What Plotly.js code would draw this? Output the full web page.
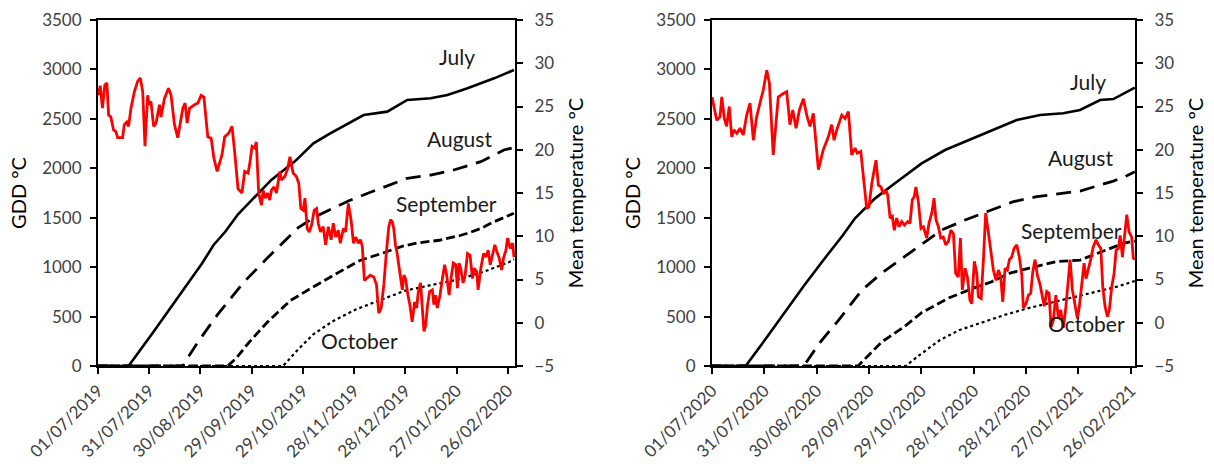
<!DOCTYPE html>
<html><head><meta charset="utf-8">
<script src="https://cdn.plot.ly/plotly-3.0.1.min.js"></script>
<style>html,body{margin:0;padding:0;background:#fff;}#chart{width:1214px;height:464px;}</style>
</head><body><div id="chart"></div>
<script>
// ---------- DATA (day offsets from 1 July of each season) ----------
const seasonStartA = '2019-07-01';
const seasonStartB = '2020-07-01';
const seasonEndA = '2020-03-01 05:00';
const seasonEndB = '2021-02-28 12:00';

// Season 2019/20 : mean daily temperature (°C)
const tempDaysA = [0,1.3,2.6,4.0,5.2,6.2,7.5,9.1,10.5,11.5,14.4,15.4,16.9,17.9,19.3,21.3,23.2,24.8,26.2,27.5,29.1,30.1,31.0,32.6,34.0,36.0,36.9,38.9,41.3,42.8,44.8,46.7,49.7,51.0,52.2,53.6,56.5,58.5,60.4,62.0,64.3,66.3,67.9,69.8,72.6,74.2,76.5,78.5,80.0,82.0,84.3,85.9,87.9,88.9,90.2,91.8,92.7,94.1,95.7,96.7,98.0,99.2,100.6,101.5,103.1,104.5,106.5,107.4,109.4,110.9,112.4,114.3,116.2,117.6,118.8,120.2,121.2,122.5,123.7,125.1,126.6,128.0,129.0,130.3,131.9,133.3,134.9,136.5,137.8,139.2,140.7,141.9,143.7,145.0,146.6,148.2,149.6,150.9,152.5,153.7,154.8,156.0,159.5,161.5,163.1,164.4,165.8,167.4,168.9,170.3,171.3,172.3,173.2,174.2,175.2,176.8,178.2,179.1,180.1,181.5,182.6,184.0,185.4,186.6,187.6,188.9,189.9,190.9,191.9,192.9,194.2,195.8,196.7,197.7,198.7,200.3,201.7,203.0,204.2,205.6,207.0,208.1,209.5,210.5,211.4,212.4,213.8,215.0,216.4,217.9,219.3,220.3,221.8,222.6,224.2,225.8,227.1,228.5,229.7,231.1,232.4,233.6,234.9,236.4,237.5,238.9,239.9,241.4,242.8,243.6];
const tempA = [26.3,27.4,24.8,27.5,27.7,24.0,23.8,22.3,22.1,21.4,21.4,22.9,23.2,22.7,24.8,26.7,27.9,28.3,26.7,20.4,26.3,25.2,25.6,22.7,23.1,25.2,23.8,25.9,27.1,26.3,22.9,21.4,24.8,25.4,23.1,24.8,25.2,25.4,26.3,26.1,21.5,21.3,19.0,17.5,19.4,21.5,21.9,22.7,19.8,15.5,15.0,17.5,17.3,18.4,20.4,20.2,20.9,15.0,13.6,15.3,14.4,15.0,14.2,15.3,15.7,15.0,17.5,16.5,16.9,17.7,19.2,17.3,16.9,16.1,13.2,13.0,14.4,10.9,10.5,11.3,13.0,13.2,11.5,10.5,11.1,9.0,11.1,9.6,11.5,9.9,10.7,9.2,10.9,10.5,13.8,11.9,9.2,9.9,9.2,9.6,8.8,4.9,5.5,5.3,4.4,1.1,1.7,4.4,8.2,11.1,11.9,11.7,10.9,9.0,8.0,5.9,3.8,5.5,5.1,3.2,2.1,0.1,2.4,1.7,3.6,4.6,2.1,-1.0,-0.3,1.9,3.6,3.8,2.1,3.2,1.7,3.2,5.1,6.7,5.5,3.2,5.5,6.9,6.7,4.0,6.9,6.3,4.6,5.5,8.0,7.8,5.1,6.3,5.9,3.8,6.3,8.0,7.6,8.4,6.7,7.8,9.0,8.2,7.5,6.1,7.5,8.4,9.8,8.6,9.2,7.6];

// Season 2019/20 : cumulative GDD (°C) by sowing month
const julyDaysA = [0,17.9,31.9,43.1,54.2,61.0,67.7,74.5,82.0,101.5,115.3,126.2,136.0,155.6,169.4,181.1,194.8,204.6,216.4,232.0,243.6];
const julyA = [0,0,331,600,870,1039,1224,1358,1535,1882,2070,2253,2354,2539,2573,2691,2708,2741,2809,2910,2994];
const augustDaysA = [0,49.5,58.8,70.0,85.5,93.7,99.6,109.6,117.3,127.3,136.6,146.6,158.4,181.1,194.8,208.3,224.2,237.7,243.6];
const augustA = [0,0,250,520,850,1000,1100,1270,1400,1510,1590,1670,1750,1899,1932,1983,2067,2185,2210];
const septemberDaysA = [0,76,81,88,99,112.5,126,139.5,153,166.4,178,187,200,212,216,224,232,243.6];
const septemberA = [0,0,80,230,440,660,800,930,1065,1140,1210,1245,1272,1320,1340,1390,1460,1545];
const octoberDaysA = [0,108.4,117.3,126.1,137.2,150.7,164.2,179.5,195.4,211.2,227,240.6,243.6];
const octoberA = [0,0,170,320,450,570,660,760,820,875,960,1050,1080];

// Season 2020/21 : mean daily temperature (°C)
const tempDaysB = [0,2.7,4.6,5.6,7.1,8.4,9.9,11.3,12.6,14.2,16.1,17.9,19.9,21.8,23.7,25.6,27.5,29.4,31.4,32.9,35.1,38.0,40.9,42.8,44.7,46.3,48.2,50.1,52.4,54.3,56.2,58.1,61.0,63.8,66.7,68.6,70.0,71.5,74.4,76.3,78.2,80.1,82.0,83.3,85.3,87.3,88.7,90.0,91.6,93.1,94.0,95.4,96.9,98.2,99.6,100.7,102.1,103.4,104.5,105.9,107.2,108.8,110.3,112.2,113.5,114.8,116.0,116.9,118.3,119.8,121.2,123.1,124.4,126.0,127.3,128.4,129.8,131.1,132.6,134.0,135.5,136.9,138.4,139.7,141.2,142.4,143.5,145.1,146.4,147.9,148.9,150.4,151.8,152.7,154.3,155.6,156.9,158.4,160.0,161.3,162.8,164.2,165.5,166.7,168.0,169.3,170.5,171.8,173.2,174.7,176.2,177.6,178.5,180.0,181.4,182.7,183.9,185.2,186.5,188.1,189.4,190.5,191.9,193.2,194.4,195.7,197.1,198.6,199.9,201.4,202.8,204.0,205.3,206.6,208.1,209.5,210.6,212.0,213.3,214.4,215.8,217.1,218.6,220.2,221.5,222.9,224.0,225.3,226.7,227.8,229.2,230.5,231.7,233.0,234.0,235.3,236.4,237.8,239.1,240.6,241.5,242.4];
const tempB = [26.1,23.4,23.8,26.1,23.6,22.7,25.0,21.5,22.3,21.9,22.5,21.7,24.0,25.4,21.1,23.8,25.4,26.9,29.2,27.7,19.4,26.1,26.5,26.7,22.9,24.6,22.5,24.6,25.9,24.0,22.7,24.2,17.7,20.0,21.5,22.9,21.1,22.3,24.0,23.6,24.4,19.4,20.2,19.6,19.8,16.1,13.2,13.4,16.1,17.8,18.8,15.9,15.7,14.9,15.3,14.8,12.1,12.3,10.7,12.1,11.1,11.7,11.3,11.7,11.5,14.2,14.6,15.7,14.0,10.9,11.1,9.8,11.5,12.7,14.4,11.9,11.1,9.8,9.9,9.0,9.4,10.7,10.3,5.7,5.3,9.8,3.8,6.3,5.3,2.6,2.2,7.1,5.7,3.0,2.8,7.3,12.7,10.5,7.8,6.1,4.9,6.1,5.3,2.4,6.3,6.1,7.3,7.6,8.6,9.0,7.6,5.5,1.7,2.2,3.2,3.4,5.9,7.3,5.5,4.4,3.0,1.9,3.6,3.4,-0.5,0.3,3.2,0.5,1.5,-0.6,1.7,4.6,7.3,3.8,2.2,0.5,1.9,4.2,6.9,5.1,6.1,7.3,8.8,9.6,9.0,8.6,4.2,1.9,0.7,1.5,4.2,5.7,8.4,8.6,10.1,7.6,9.8,12.5,10.5,9.9,7.5,7.3];

// Season 2020/21 : cumulative GDD (°C) by sowing month
const julyDaysB = [0,19.3,30.4,41.5,52.6,63.8,74.9,82.0,93.5,104.9,113.5,120.2,133.6,145.1,158.4,174.7,188.1,201.4,211.0,222.5,230.1,241.6,242.4];
const julyB = [0,0,265,540,810,1070,1320,1494,1696,1848,1966,2050,2185,2269,2370,2488,2539,2556,2590,2691,2700,2809,2815];
const augustDaysB = [0,52.6,61.5,72.6,86.0,97.1,110.4,120.2,131.7,145.1,160.0,172.8,186.2,197.6,211.0,222.5,230.1,237.8,242.4];
const augustB = [0,0,229,465,769,937,1106,1230,1376,1477,1578,1662,1713,1740,1770,1831,1870,1925,1966];
const septemberDaysB = [0,83.7,97.1,110.4,120.2,136.0,149.5,160.0,166.0,171.0,182.0,197.0,211.0,220.6,228.2,235.8,242.4];
const septemberB = [0,0,240,400,540,690,785,850,900,940,990,1055,1072,1140,1190,1240,1265];
const octoberDaysB = [0,111,119.3,130.7,141.6,154.8,168.0,181.8,195.0,208.1,221.3,232.8,242.4];
const octoberB = [0,0,115,263,362,440,518,587,645,695,755,805,860];

const curveLabels = ['July','August','September','October'];

// ---------- helpers ----------
function toDates(start, days){
  const base = Date.parse(start + 'T00:00:00Z');
  return days.map(d => new Date(base + d*86400000).toISOString().slice(0,16).replace('T',' '));
}
const DAY30 = 30*86400000;
const FAM = 'Lato, "Open Sans", sans-serif';
const tickFont = {family:FAM, size:17, color:'#404040'};
const xTickFont = {family:FAM, size:17, color:'#404040'};
const titleFont = {family:FAM, size:20, color:'#000'};
const annFont = {family:FAM, size:21, color:'#1a1a1a'};

const gddStyles = [
  {color:'#000', width:2.6, dash:'solid'},
  {color:'#000', width:2.8, dash:'15px,9px'},
  {color:'#000', width:2.8, dash:'9px,4px'},
  {color:'#000', width:2.2, dash:'dot'}
];

function seasonTraces(start, xa, yGdd, yTemp, gddSets, tDays, tVals){
  const tr = [];
  gddSets.forEach((s,i) => {
    tr.push({x: toDates(start, s[0]), y: s[1], xaxis: xa, yaxis: yGdd, type:'scatter', mode:'lines',
      name: curveLabels[i], line: gddStyles[i], hoverinfo:'skip', showlegend:false});
  });
  tr.push({x: toDates(start, tDays), y: tVals, xaxis: xa, yaxis: yTemp, type:'scatter', mode:'lines',
    name:'Mean temperature', line:{color:'#ff0000', width:2.8}, showlegend:false});
  return tr;
}

const traces = [].concat(
  seasonTraces(seasonStartA, 'x', 'y', 'y2',
    [[julyDaysA, julyA],[augustDaysA, augustA],[septemberDaysA, septemberA],[octoberDaysA, octoberA]],
    tempDaysA, tempA),
  seasonTraces(seasonStartB, 'x2', 'y3', 'y4',
    [[julyDaysB, julyB],[augustDaysB, augustB],[septemberDaysB, septemberB],[octoberDaysB, octoberB]],
    tempDaysB, tempB)
);

const W = 1214;
function xAxis(dom, start, end, anchor){
  return {domain: dom, anchor: anchor, type:'date', range:[start, end], tick0: start, dtick: DAY30,
    tickformat:'%d/%m/%Y', tickangle:-45, ticks:'outside', ticklen:6, tickwidth:2, tickcolor:'#000',
    showline:true, linewidth:2, linecolor:'#000', mirror:true, showgrid:false, zeroline:false,
    tickfont: xTickFont, fixedrange:true};
}
function gddAxis(anchor){
  return {anchor: anchor, domain:[0,1], range:[0,3500], dtick:500, tick0:0, ticks:'outside', ticklen:6, tickwidth:2,
    tickcolor:'#000', showline:true, linewidth:2, linecolor:'#000', showgrid:false, zeroline:false,
    tickfont: tickFont, ticklabelstandoff: 5, title:{text:'GDD °C', font: titleFont, standoff: 10}};
}
function tempAxis(anchor, over){
  return {anchor: anchor, overlaying: over, side:'right', range:[-5,35], dtick:5, tick0:-5, ticks:'outside', ticklen:6,
    tickwidth:2, tickcolor:'#000', showline:true, linewidth:2, linecolor:'#000', showgrid:false, zeroline:false,
    tickfont: tickFont, ticklabelstandoff: 8, title:{text:'Mean temperature °C', font: titleFont, standoff: 16}};
}

// label placements (day offset, GDD level)
const labelPosA = [[210.5,3129],[211.8,2303],[204,1646],[153,263]];
const labelPosB = [[215.8,2876],[211,2111],[206.1,1366],[214.9,432]];
const annotations = [];
labelPosA.forEach((p,i) => annotations.push({x: toDates(seasonStartA,[p[0]])[0], y: p[1], xref:'x', yref:'y',
  text: curveLabels[i], showarrow:false, font: annFont}));
labelPosB.forEach((p,i) => annotations.push({x: toDates(seasonStartB,[p[0]])[0], y: p[1], xref:'x2', yref:'y3',
  text: curveLabels[i], showarrow:false, font: annFont}));

const layout = {
  width: 1214, height: 464,
  margin: {l:0, r:0, t:20, b:98, pad:0},
  paper_bgcolor:'#fff', plot_bgcolor:'rgba(0,0,0,0)',
  showlegend:false,
  xaxis: xAxis([98/W, 515/W], seasonStartA, seasonEndA, 'y'),
  yaxis: gddAxis('x'),
  yaxis2: tempAxis('x', 'y'),
  xaxis2: xAxis([712/W, 1135/W], seasonStartB, seasonEndB, 'y3'),
  yaxis3: gddAxis('x2'),
  yaxis4: tempAxis('x2', 'y3'),
  annotations: annotations,
  font: {family: FAM}
};

Plotly.newPlot('chart', traces, layout, {displayModeBar:false, staticPlot:true});
</script>
</body></html>
